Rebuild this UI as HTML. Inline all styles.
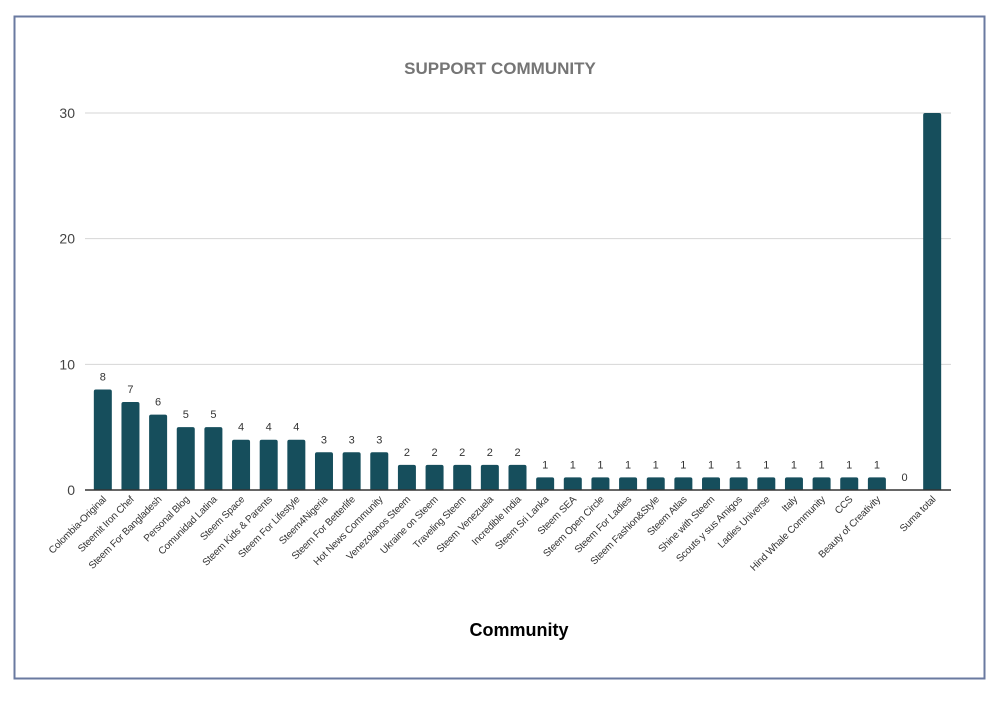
<!DOCTYPE html>
<html><head><meta charset="utf-8"><style>
html,body{margin:0;padding:0;background:#fff;}
svg{display:block;font-family:"Liberation Sans",Arial,sans-serif;}
</style></head><body>
<svg id="chart" width="996" height="701" viewBox="0 0 996 701">
<rect x="14.5" y="16.5" width="970" height="662" fill="#fff" stroke="#6a7aa0" stroke-width="2"/>
<text x="500" y="74" text-anchor="middle" font-size="17" font-weight="bold" fill="#757575">SUPPORT COMMUNITY</text>
<text x="519" y="636" text-anchor="middle" font-size="18" font-weight="bold" fill="#000">Community</text>
<g id="grid"></g><g id="bars"></g><g id="axis"></g><g id="labels"></g>
</svg>
<script>
const categories=["Colombia-Original","Steemit Iron Chef","Steem For Bangladesh","Personal Blog","Comunidad Latina","Steem Space","Steem Kids & Parents","Steem For Lifestyle","Steem4Nigeria","Steem For Betterlife","Hot News Community","Venezolanos Steem","Ukraine on Steem","Traveling Steem","Steem Venezuela","Incredible India","Steem Sri Lanka","Steem SEA","Steem Open Circle","Steem For Ladies","Steem Fashion&Style","Steem Atlas","Shine with Steem","Scouts y sus Amigos","Ladies Universe","Italy","Hind Whale Community","CCS","Beauty of Creativity","","Suma total"];
const values=[8,7,6,5,5,4,4,4,3,3,3,2,2,2,2,2,1,1,1,1,1,1,1,1,1,1,1,1,1,0,30];
const yTicks=[0,10,20,30];
const NS="http://www.w3.org/2000/svg";
const L=89,R=946,Y0=490,Y30=113;
const slot=(R-L)/categories.length;
const x=i=>L+slot*(i+0.5);
const y=v=>Y0-(Y0-Y30)*v/30;
const g=document.getElementById('grid'),b=document.getElementById('bars'),ax=document.getElementById('axis'),lb=document.getElementById('labels');
function mk(tag,attrs,parent){const e=document.createElementNS(NS,tag);for(const k in attrs)e.setAttribute(k,attrs[k]);parent.appendChild(e);return e;}
yTicks.forEach(t=>{
  const ln=mk('line',{x1:85,x2:951,y1:y(t),y2:y(t),stroke:t===0?'#333':'#d6d6d6','stroke-width':t===0?1.5:1},t===0?ax:g);
  
  
  const tx=mk('text',{x:75,y:y(t)+5,'text-anchor':'end','font-size':14,fill:'#444'},g);
  tx.textContent=t;
  
  
});
const bw=18;
values.forEach((v,i)=>{
  if(v>0){
    const r=mk('path',{d:`M${x(i)-bw/2},${Y0} V${y(v)+2} Q${x(i)-bw/2},${y(v)} ${x(i)-bw/2+2},${y(v)} H${x(i)+bw/2-2} Q${x(i)+bw/2},${y(v)} ${x(i)+bw/2},${y(v)+2} V${Y0} Z`,fill:'#164e5c'},b);
    
    
  }
  if(i<values.length-1){
    const t=mk('text',{x:x(i),y:y(v)-9,'text-anchor':'middle','font-size':11,fill:'#333'},lb);
    t.textContent=v;
    
    
  }
  if(categories[i]){
    const c=mk('text',{x:0,y:0,'text-anchor':'end','font-size':10,fill:'#333','letter-spacing':'-0.2',transform:`translate(${x(i)+4},${Y0+10}) rotate(-45)`},lb);
    c.textContent=categories[i];
    
    
  }
});
</script>
</body></html>
